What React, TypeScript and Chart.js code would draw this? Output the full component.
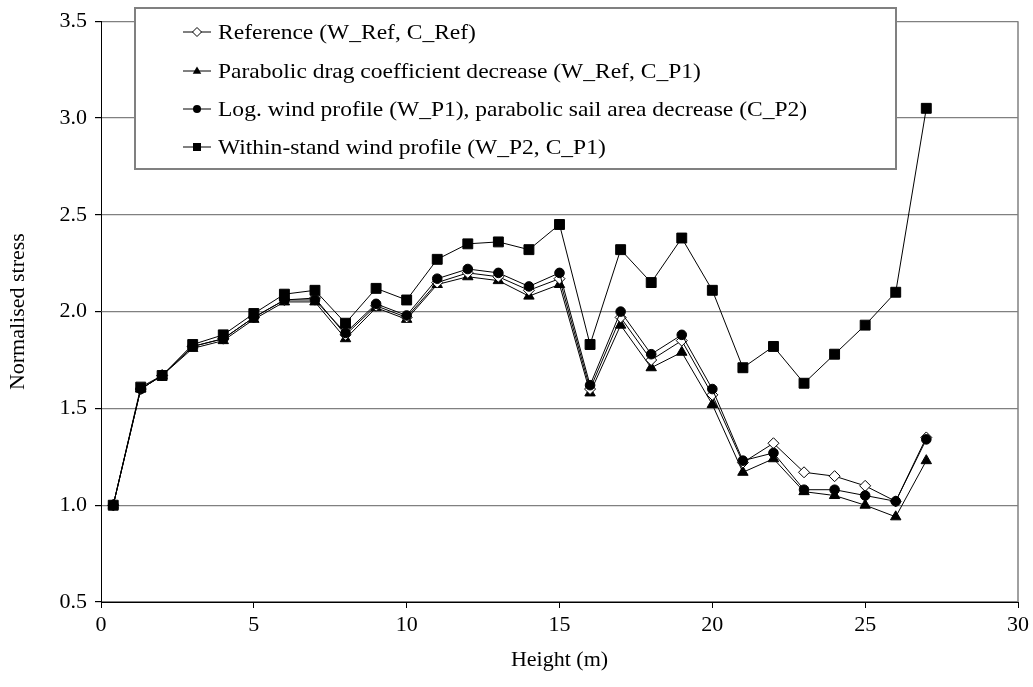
import React, { useEffect, useRef } from 'react';
import { Chart, registerables } from 'chart.js';

Chart.register(...registerables);

const heights = [0.4, 1.3, 2, 3, 4, 5, 6, 7, 8, 9, 10, 11, 12, 13, 14, 15, 16, 17, 18, 19, 20, 21, 22, 23, 24, 25, 26, 27];

const referenceStress = [1.0, 1.6, 1.67, 1.82, 1.86, 1.97, 2.06, 2.07, 1.88, 2.03, 1.97, 2.15, 2.2, 2.18, 2.11, 2.17, 1.6, 1.97, 1.75, 1.85, 1.57, 1.22, 1.32, 1.17, 1.15, 1.1, 1.02, 1.35];
const parabolicDragStress = [1.0, 1.6, 1.67, 1.81, 1.85, 1.96, 2.05, 2.05, 1.86, 2.02, 1.96, 2.14, 2.18, 2.16, 2.08, 2.14, 1.58, 1.93, 1.71, 1.79, 1.52, 1.17, 1.24, 1.07, 1.05, 1.0, 0.94, 1.23];
const logWindStress = [1.0, 1.6, 1.67, 1.82, 1.86, 1.97, 2.06, 2.06, 1.89, 2.04, 1.98, 2.17, 2.22, 2.2, 2.13, 2.2, 1.62, 2.0, 1.78, 1.88, 1.6, 1.23, 1.27, 1.08, 1.08, 1.05, 1.02, 1.34];
const withinStandStress = [1.0, 1.61, 1.67, 1.83, 1.88, 1.99, 2.09, 2.11, 1.94, 2.12, 2.06, 2.27, 2.35, 2.36, 2.32, 2.45, 1.83, 2.32, 2.15, 2.38, 2.11, 1.71, 1.82, 1.63, 1.78, 1.93, 2.1, 3.05];

const seriesLabels = [
  'Reference (W_Ref, C_Ref)',
  'Parabolic drag coefficient decrease (W_Ref, C_P1)',
  'Log. wind profile (W_P1), parabolic sail area decrease (C_P2)',
  'Within-stand wind profile (W_P2, C_P1)',
];
const seriesMarkers = ['diamond', 'triangle', 'circle', 'square'];

const xAxisTitle = 'Height (m)';
const yAxisTitle = 'Normalised stress';

const FONT = "'Liberation Serif', 'Times New Roman', serif";

function toPoints(vals: number[]) {
  return vals.map((v, i) => ({ x: heights[i], y: v }));
}

function drawMarker(ctx: CanvasRenderingContext2D, kind: string, x: number, y: number) {
  ctx.save();
  ctx.lineWidth = 1;
  ctx.strokeStyle = '#000';
  ctx.fillStyle = '#000';
  ctx.beginPath();
  if (kind === 'diamond') {
    const r = 4.5;
    ctx.moveTo(x, y - r);
    ctx.lineTo(x + r, y);
    ctx.lineTo(x, y + r);
    ctx.lineTo(x - r, y);
    ctx.closePath();
    ctx.fillStyle = '#fff';
    ctx.fill();
    ctx.stroke();
  } else if (kind === 'triangle') {
    const r = 4.5;
    ctx.moveTo(x, y - r);
    ctx.lineTo(x + r * 0.95, y + r * 0.6);
    ctx.lineTo(x - r * 0.95, y + r * 0.6);
    ctx.closePath();
    ctx.fill();
  } else if (kind === 'circle') {
    ctx.arc(x, y, 4, 0, Math.PI * 2);
    ctx.fill();
  } else {
    ctx.rect(x - 4, y - 4, 8, 8);
    ctx.fill();
  }
  ctx.restore();
}

const legendPlugin = {
  id: 'boxLegend',
  afterDraw(chart: any) {
    const ctx: CanvasRenderingContext2D = chart.ctx;
    const bx = 135, by = 8, bw = 761, bh = 161;
    ctx.save();
    ctx.fillStyle = '#fff';
    ctx.fillRect(bx, by, bw, bh);
    ctx.strokeStyle = '#808080';
    ctx.lineWidth = 2;
    ctx.strokeRect(bx, by, bw, bh);
    const rows = [32, 71, 109, 147];
    seriesLabels.forEach((label, i) => {
      const y = rows[i];
      ctx.strokeStyle = '#000';
      ctx.lineWidth = 1;
      ctx.beginPath();
      ctx.moveTo(183, y);
      ctx.lineTo(211, y);
      ctx.stroke();
      drawMarker(ctx, seriesMarkers[i], 197, y);
      ctx.save();
      ctx.translate(218, y);
      ctx.scale(1.12, 1);
      ctx.fillStyle = '#000';
      ctx.font = `21px ${FONT}`;
      ctx.textBaseline = 'middle';
      ctx.textAlign = 'left';
      ctx.fillText(label, 0, 1);
      ctx.restore();
    });
    // right border of plot area
    const a = chart.chartArea;
    ctx.strokeStyle = '#808080';
    ctx.lineWidth = 1.5;
    ctx.beginPath();
    ctx.moveTo(a.right, a.top);
    ctx.lineTo(a.right, a.bottom);
    ctx.stroke();
    ctx.restore();
  },
};

export default function App() {
  const ref = useRef<HTMLCanvasElement | null>(null);
  useEffect(() => {
    if (!ref.current) return;
    const common = { borderColor: '#000', borderWidth: 1, pointBorderColor: '#000', pointBorderWidth: 1, tension: 0 };
    const chart = new Chart(ref.current, {
      type: 'line',
      data: {
        datasets: [
          { ...common, label: seriesLabels[3], data: toPoints(withinStandStress), pointStyle: 'rect', pointRadius: 7, pointBackgroundColor: '#000' },
          { ...common, label: seriesLabels[2], data: toPoints(logWindStress), pointStyle: 'circle', pointRadius: 4.8, pointBackgroundColor: '#000' },
          { ...common, label: seriesLabels[0], data: toPoints(referenceStress), pointStyle: 'rectRot', pointRadius: 5.5, pointBackgroundColor: '#fff' },
          { ...common, label: seriesLabels[1], data: toPoints(parabolicDragStress), pointStyle: 'triangle', pointRadius: 6, pointBackgroundColor: '#000' },
        ] as any,
      },
      options: {
        animation: false,
        responsive: false,
        devicePixelRatio: 1,
        layout: { padding: { top: 19, right: 13, left: 0, bottom: 0 } },
        plugins: { legend: { display: false }, tooltip: { enabled: false } },
        scales: {
          x: {
            type: 'linear',
            min: 0,
            max: 30,
            ticks: { stepSize: 5, color: '#000', font: { family: FONT, size: 22 }, padding: 4, maxRotation: 0 },
            grid: { drawOnChartArea: false, tickLength: 6, tickColor: '#000' },
            border: { color: '#000', width: 1 },
            title: { display: true, text: xAxisTitle, color: '#000', font: { family: FONT, size: 22 }, padding: { top: 0, bottom: 14 } },
            afterFit: (s: any) => { s.height = 85; },
          },
          y: {
            type: 'linear',
            min: 0.5,
            max: 3.5,
            ticks: { stepSize: 0.5, color: '#000', font: { family: FONT, size: 22 }, padding: 8, callback: (v: any) => Number(v).toFixed(1) },
            grid: { color: '#808080', lineWidth: 1.2, tickLength: 6, tickColor: '#000' },
            border: { color: '#000', width: 1 },
            title: { display: true, text: yAxisTitle, color: '#000', font: { family: FONT, size: 22 }, padding: { top: 5, bottom: 0 } },
            afterFit: (s: any) => { s.width = 101; },
          },
        },
      } as any,
      plugins: [legendPlugin],
    });
    return () => chart.destroy();
  }, []);
  return (
    <div style={{ position: 'absolute', left: 0, top: 0, width: 1033, height: 687, background: '#fff' }}>
      <canvas ref={ref} width={1033} height={687} style={{ width: 1033, height: 687, display: 'block' }} />
    </div>
  );
}
